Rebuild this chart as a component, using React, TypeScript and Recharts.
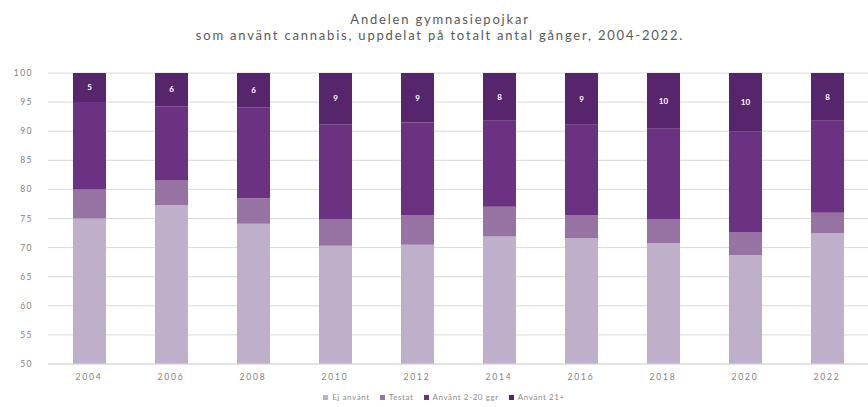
import React from 'react';
import { BarChart, Bar, XAxis, YAxis, CartesianGrid, Legend, LabelList } from 'recharts';

const years = ['2004', '2006', '2008', '2010', '2012', '2014', '2016', '2018', '2020', '2022'];
const ejAnvant = [75.0, 77.3, 74.1, 70.3, 70.5, 71.9, 71.6, 70.8, 68.7, 72.5];
const testat = [5.0, 4.3, 4.4, 4.6, 5.0, 5.1, 3.9, 4.1, 4.0, 3.5];
const anvant220 = [15.0, 12.7, 15.6, 16.3, 16.0, 14.8, 15.6, 15.5, 17.2, 15.8];
const anvant21 = [5.0, 5.7, 5.9, 8.8, 8.5, 8.2, 8.9, 9.6, 10.1, 8.2];
const yTicks = [50, 55, 60, 65, 70, 75, 80, 85, 90, 95, 100];
const seriesNames = ['Ej använt', 'Testat', 'Använt 2-20 ggr', 'Använt 21+'];

const data = years.map((y, i) => ({
  year: y,
  ej: ejAnvant[i],
  testat: testat[i],
  a220: anvant220[i],
  a21: anvant21[i],
}));

const FONT = 'Lato, "DejaVu Sans", sans-serif';

export default function App() {
  return (
    <div style={{ position: 'absolute', left: 0, top: 0, width: 868, height: 407, background: '#fff', fontFamily: FONT }}>
      <div
        style={{
          position: 'absolute',
          left: 0,
          top: 11,
          width: 880,
          textAlign: 'center',
          color: '#595959',
          fontSize: 13,
          letterSpacing: 1.8,
          lineHeight: '16px',
          fontFamily: FONT,
        }}
      >
        <div>Andelen gymnasiepojkar</div>
        <div>som använt cannabis, uppdelat på totalt antal gånger, 2004-2022.</div>
      </div>
      <BarChart
        width={868}
        height={407}
        data={data}
        margin={{ top: 73, right: 0, bottom: 2, left: 0 }}
        style={{ position: 'absolute', left: 0, top: 0 }}
      >
        <CartesianGrid vertical={false} stroke="#d9d9d9" />
        <XAxis
          dataKey="year"
          height={22}
          tickLine={false}
          tickMargin={4}
          axisLine={{ stroke: '#d9d9d9' }}
          tick={{ fontSize: 8.5, fill: '#7f7f7f', fontFamily: FONT, letterSpacing: 1.8 }}
          interval={0}
        />
        <YAxis
          width={48}
          domain={[50, 100]}
          ticks={yTicks}
          allowDataOverflow
          axisLine={false}
          tickLine={false}
          tickMargin={9}
          tick={{ fontSize: 8.5, fill: '#7f7f7f', fontFamily: FONT, letterSpacing: 1.5 }}
        />
        <Legend
          verticalAlign="bottom"
          height={19}
          iconType="square"
          iconSize={5}
          itemSorter={(item: any) => seriesNames.indexOf(item.value)}
          wrapperStyle={{ fontSize: 8, fontFamily: FONT, letterSpacing: 0.6, bottom: -4, paddingLeft: 30, boxSizing: 'border-box' }}
          formatter={(value) => <span style={{ color: '#8c8c8c' }}>{value}</span>}
        />
        <Bar dataKey="ej" name={seriesNames[0]} stackId="s" fill="#bfb0ca" barSize={33} isAnimationActive={false} />
        <Bar dataKey="testat" name={seriesNames[1]} stackId="s" fill="#9673a3" barSize={33} isAnimationActive={false} />
        <Bar dataKey="a220" name={seriesNames[2]} stackId="s" fill="#6c3282" barSize={33} isAnimationActive={false} />
        <Bar dataKey="a21" name={seriesNames[3]} stackId="s" fill="#57256b" barSize={33} isAnimationActive={false}>
          <LabelList
            dataKey="a21"
            position="center"
            formatter={(v: number) => String(Math.round(v))}
            style={{ fill: '#ffffff', fontSize: 8, fontWeight: 'bold', fontFamily: FONT }}
          />
        </Bar>
      </BarChart>
    </div>
  );
}
